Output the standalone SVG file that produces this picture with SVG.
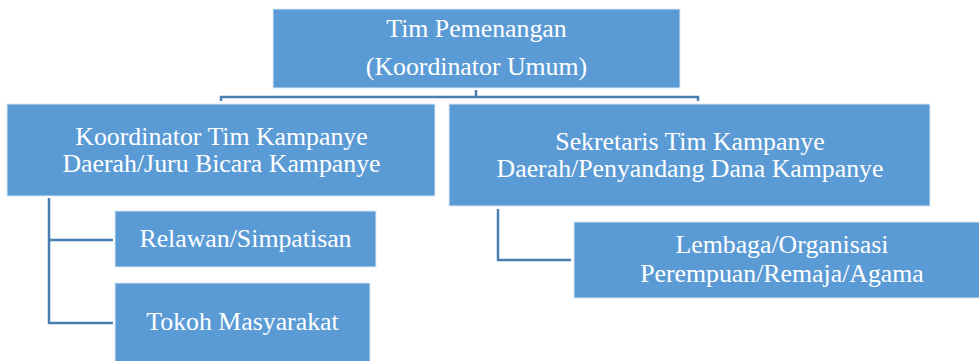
<svg xmlns="http://www.w3.org/2000/svg" width="979" height="361" viewBox="0 0 979 361">
<style>
.box{fill:#5B9BD5;stroke:#DCE8F5;stroke-width:1}
.t{font-family:"Liberation Serif","Times New Roman",serif;font-size:25.8px;fill:#FFFFFF;text-anchor:middle}
.c{fill:none;stroke:#4A7EB0;stroke-width:2.5}
</style>
<rect width="979" height="361" fill="#FFFFFF"/>
<g id="connectors">
<polyline class="c" points="476,90 476,97"/>
<polyline class="c" points="221,101 221,97 698,97 698,101"/>
<polyline class="c" points="49,198 49,323 113,323"/>
<polyline class="c" points="49,240 113,240"/>
<polyline class="c" points="498,209 498,260 571,260"/>
</g>
<g id="n-tim">
<rect class="box" x="273" y="9" width="407" height="79"/>
<text class="t" x="476.5" y="37">Tim Pemenangan</text>
<text class="t" x="476.5" y="75">(Koordinator Umum)</text>
</g>
<g id="n-koord">
<rect class="box" x="7" y="104" width="428" height="92"/>
<text class="t" x="221.5" y="145">Koordinator Tim Kampanye</text>
<text class="t" x="221.5" y="172">Daerah/Juru Bicara Kampanye</text>
</g>
<g id="n-sekr">
<rect class="box" x="449" y="104" width="481" height="102"/>
<text class="t" x="690" y="150">Sekretaris Tim Kampanye</text>
<text class="t" x="690" y="177">Daerah/Penyandang Dana Kampanye</text>
</g>
<g id="n-relawan">
<rect class="box" x="115" y="211" width="261" height="56"/>
<text class="t" x="245.5" y="247">Relawan/Simpatisan</text>
</g>
<g id="n-tokoh">
<rect class="box" x="115" y="283" width="255" height="80"/>
<text class="t" x="242.5" y="330">Tokoh Masyarakat</text>
</g>
<g id="n-lembaga">
<rect class="box" x="574" y="222" width="407" height="76"/>
<text class="t" x="782" y="253">Lembaga/Organisasi</text>
<text class="t" x="782" y="282">Perempuan/Remaja/Agama</text>
</g>
</svg>
